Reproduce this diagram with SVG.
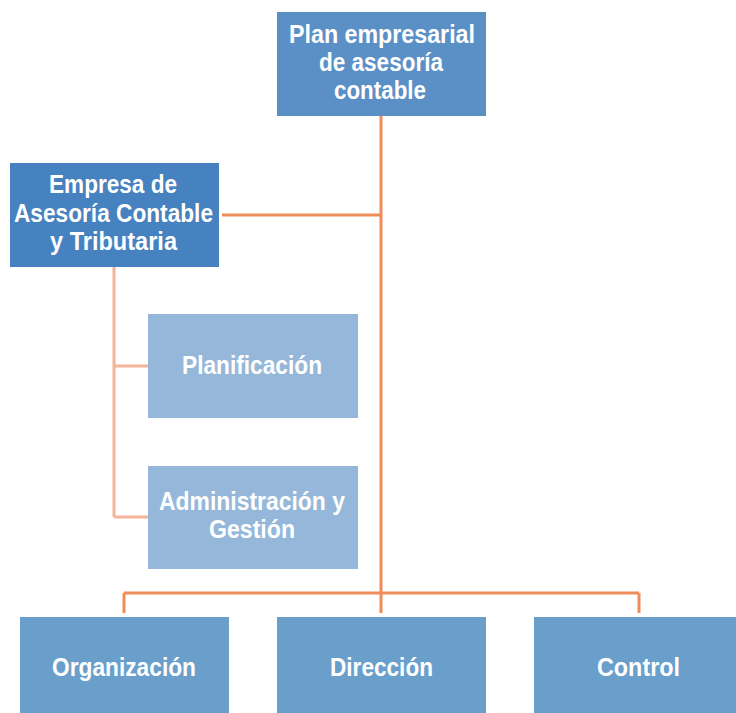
<svg xmlns="http://www.w3.org/2000/svg" width="736" height="713" viewBox="0 0 736 713">
<style>
text{font-family:"Liberation Sans",Arial,sans-serif;font-weight:bold;font-size:25px;fill:#fff;text-anchor:middle}
.c1{stroke:#ef8c5a;stroke-width:3;fill:none}
.c2{stroke:#f4b49a;stroke-width:3;fill:none}
</style>
<rect width="736" height="713" fill="#fff"/>
<g id="connectors">
<path class="c1" d="M381 116V613M222 215H381M124 593H639M124 593V613M639 593V613"/>
<path class="c2" d="M114 267V517M114 366H148M114 517H148"/>
</g>
<g id="plan"><rect x="277" y="12" width="209" height="104" fill="#5b90c7"/>
<text x="382" y="43" textLength="186" lengthAdjust="spacingAndGlyphs">Plan empresarial</text><text x="381" y="71" textLength="124" lengthAdjust="spacingAndGlyphs">de asesoría</text><text x="380" y="99" textLength="92" lengthAdjust="spacingAndGlyphs">contable</text></g>
<g id="empresa"><rect x="10" y="163" width="209" height="104" fill="#4682bf"/>
<text x="113" y="193" textLength="128" lengthAdjust="spacingAndGlyphs">Empresa de</text><text x="113.5" y="222" textLength="199" lengthAdjust="spacingAndGlyphs">Asesoría Contable</text><text x="113.5" y="250" textLength="127" lengthAdjust="spacingAndGlyphs">y Tributaria</text></g>
<g id="planificacion"><rect x="148" y="314" width="210" height="104" fill="#95b8da"/>
<text x="252" y="374" textLength="140" lengthAdjust="spacingAndGlyphs">Planificación</text></g>
<g id="administracion"><rect x="148" y="466" width="210" height="103" fill="#95b8da"/>
<text x="252" y="510" textLength="186" lengthAdjust="spacingAndGlyphs">Administración y</text><text x="252" y="538" textLength="86" lengthAdjust="spacingAndGlyphs">Gestión</text></g>
<g id="organizacion"><rect x="20" y="617" width="209" height="96" fill="#6a9fcc"/>
<text x="124" y="676" textLength="144" lengthAdjust="spacingAndGlyphs">Organización</text></g>
<g id="direccion"><rect x="277" y="617" width="209" height="96" fill="#6a9fcc"/>
<text x="381.5" y="676" textLength="103" lengthAdjust="spacingAndGlyphs">Dirección</text></g>
<g id="control"><rect x="534" y="617" width="202" height="96" fill="#6a9fcc"/>
<text x="638.5" y="676" textLength="83" lengthAdjust="spacingAndGlyphs">Control</text></g>
</svg>
